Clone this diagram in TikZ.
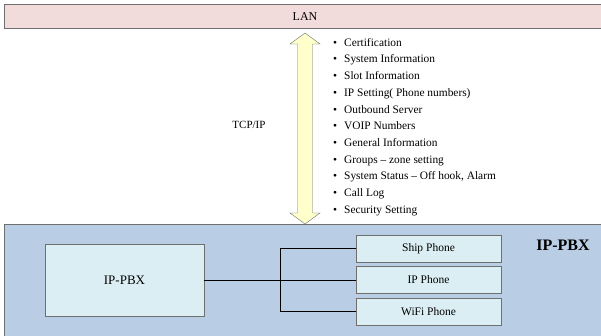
\documentclass[tikz,border=0pt]{standalone}
\usepackage{fontspec}
\setmainfont{Liberation Serif}
\usetikzlibrary{positioning}
\definecolor{lanpink}{HTML}{F2DCDB}
\definecolor{pbxblue}{HTML}{B9CDE5}
\definecolor{boxcyan}{HTML}{DBEEF4}
\definecolor{arrowyellow}{HTML}{FFFFCC}
\definecolor{edgegray}{HTML}{6F6F6F}

\begin{document}
\begin{tikzpicture}[x=1pt, y=-1pt,
  phonebox/.style={draw=edgegray, thick, fill=boxcyan, minimum width=145pt, minimum height=27pt, font=\fontsize{11.5}{13}\selectfont},
  item/.style={anchor=west, inner sep=0pt, text height=8pt, text depth=2.5pt, font=\fontsize{11.4}{13}\selectfont}]
\useasboundingbox (0,0) rectangle (601,335);
% LAN bar
\draw[thick, edgegray, fill=lanpink] (4,4) rectangle (604,28);
\node (lan) at (305,16.5) {\fontsize{12}{14}\selectfont LAN};
% IP-PBX area
\draw[thick, edgegray, fill=pbxblue] (4,224) rectangle (604,338);
\node[font=\fontsize{16}{18}\selectfont\bfseries] (title) at (563,245) {IP-PBX};
% TCP/IP link
\draw[edgegray, fill=arrowyellow] (305,33) -- (320,44) -- (312.5,44) -- (312.5,213) -- (320,213)
  -- (305,224) -- (290,213) -- (297.5,213) -- (297.5,44) -- (290,44) -- cycle;
\node[font=\fontsize{11}{13}\selectfont] (tcp) at (249,125) {TCP/IP};
% settings list
\foreach \txt [count=\i] in {Certification, System Information, Slot Information,
  IP Setting( Phone numbers), Outbound Server, VOIP Numbers, General Information,
  Groups -- zone setting, System Status -- Off hook{,} Alarm, Call Log, Security Setting}
  \node[item] (set\i) at (333,{43.5+16.7*(\i-1)}) {\textbullet\hspace{7pt}\txt};
% boxes
\node[draw=edgegray, thick, fill=boxcyan, minimum width=159pt, minimum height=72pt,
  font=\fontsize{13}{15}\selectfont] (pbx) at (124.5,280) {IP-PBX};
\node[phonebox] (ship) at (428.5,248.5) {Ship Phone};
\node[phonebox] (ipph) at (428.5,280) {IP Phone};
\node[phonebox] (wifi) at (428.5,311.5) {WiFi Phone};
% wiring
\coordinate (bus) at (280,248.5);
\draw[thick] (pbx.east) -- (ipph.west);
\draw[thick] (ship.west) -- (bus) -- (bus |- wifi.west) -- (wifi.west);
\end{tikzpicture}
\end{document}
